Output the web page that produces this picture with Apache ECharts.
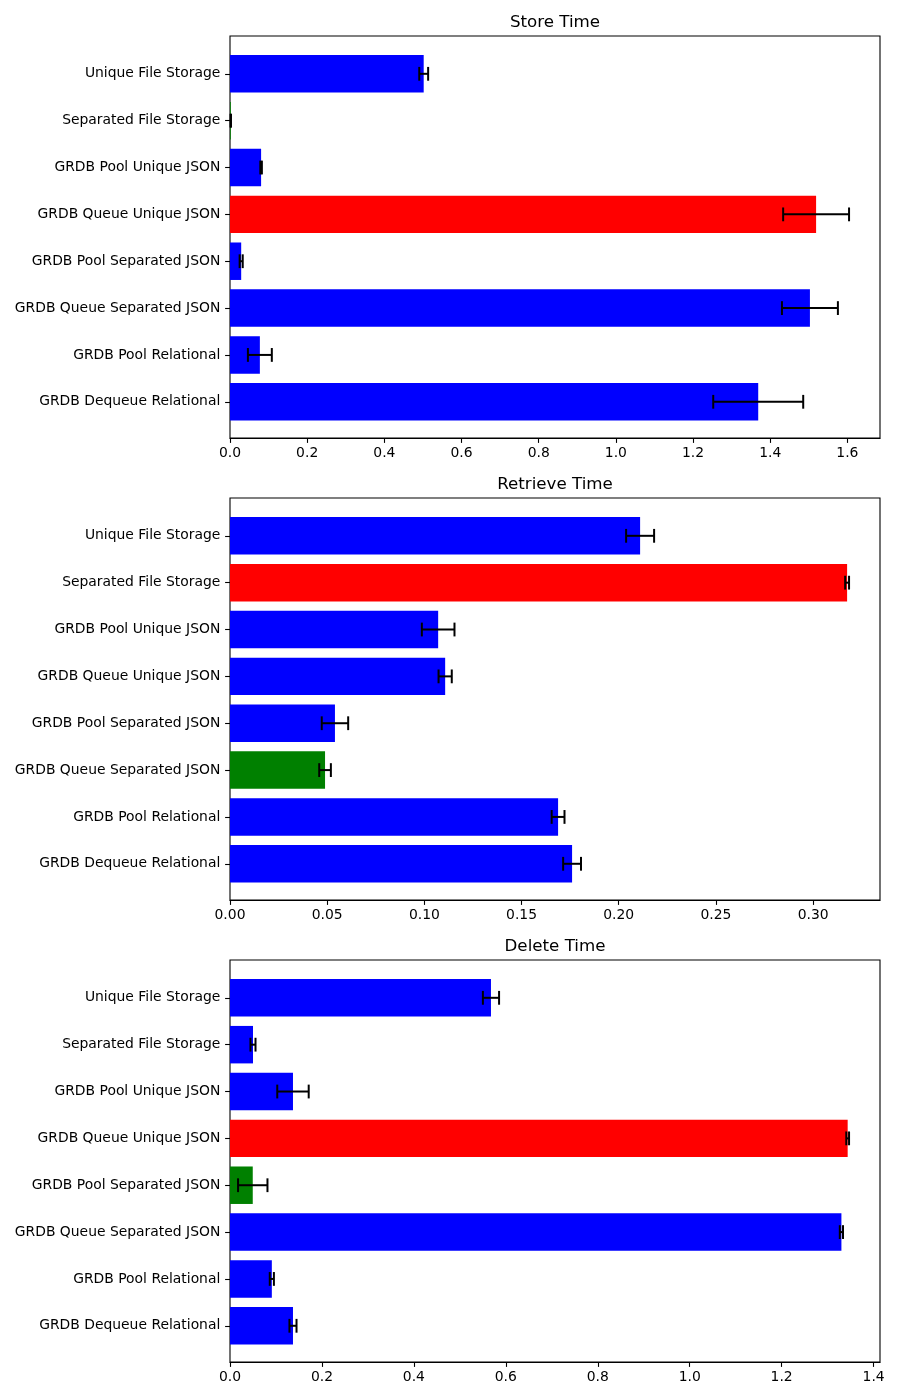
<!DOCTYPE html>
<html>
<head>
<meta charset="utf-8">
<script src="https://cdn.jsdelivr.net/npm/echarts@6/dist/echarts.min.js"></script>
<style>
html,body{margin:0;padding:0;background:#fff;}
#chart{width:900px;height:1400px;}
</style>
</head>
<body>
<div id="chart"></div>
<script>
const categories = ['Unique File Storage','Separated File Storage','GRDB Pool Unique JSON','GRDB Queue Unique JSON','GRDB Pool Separated JSON','GRDB Queue Separated JSON','GRDB Pool Relational','GRDB Dequeue Relational'];
const titles = ['Store Time','Retrieve Time','Delete Time'];

const storeTime = [0.502, 0.002, 0.0806, 1.519, 0.029, 1.503, 0.0774, 1.369];
const storeErr  = [0.0115, 0.0005, 0.002, 0.0854, 0.004, 0.0725, 0.031, 0.1166];

const retrieveTime = [0.211, 0.3175, 0.1071, 0.1107, 0.0540, 0.0489, 0.1688, 0.1760];
const retrieveErr  = [0.0072, 0.001, 0.0084, 0.0034, 0.0068, 0.003, 0.0033, 0.0046];

const deleteTime = [0.5677, 0.0500, 0.137, 1.3436, 0.0495, 1.330, 0.091, 0.137];
const deleteErr  = [0.0176, 0.0055, 0.0342, 0.003, 0.032, 0.0035, 0.0045, 0.0077];

const storeTicks = [0, 0.2, 0.4, 0.6, 0.8, 1.0, 1.2, 1.4, 1.6];
const retrieveTicks = [0, 0.05, 0.10, 0.15, 0.20, 0.25, 0.30];
const deleteTicks = [0, 0.2, 0.4, 0.6, 0.8, 1.0, 1.2, 1.4];
const tickDecimals = [1, 2, 1];

const panels = [
  {vals: storeTime, errs: storeErr, ticks: storeTicks},
  {vals: retrieveTime, errs: retrieveErr, ticks: retrieveTicks},
  {vals: deleteTime, errs: deleteErr, ticks: deleteTicks}
];

const FONT = 'DejaVu Sans';
const axesLeft = 230, axesWidth = 650, axesHeight = 402;
const axesTops = [36, 498, 960];
const n = categories.length;
// matplotlib-like y layout: bars at 0..n-1, height 0.8, 5% margins
const span = (n - 1 + 0.8) * 1.1;
const unitPx = axesHeight / span;
const inset = (0.4 + (n - 1 + 0.8) * 0.05 - 0.5) * unitPx;
const shift = 0.8;

const option = {
  animation: false,
  backgroundColor: '#ffffff',
  title: [], grid: [], xAxis: [], yAxis: [], series: []
};

panels.forEach((p, k) => {
  const top = axesTops[k];
  const maxData = Math.max(...p.vals.map((v, i) => v + p.errs[i]));
  const xmax = maxData * 1.05;
  const maxV = Math.max(...p.vals), minV = Math.min(...p.vals);
  const colors = p.vals.map(v => v === maxV ? '#ff0000' : (v === minV ? '#008000' : '#0000ff'));

  option.title.push({
    text: titles[k], left: axesLeft + axesWidth / 2, top: top - 22, textAlign: 'center', padding: 0,
    textStyle: {fontFamily: FONT, fontSize: 16.7, fontWeight: 'normal', color: '#000'}
  });
  // frame grid
  option.grid.push({left: axesLeft, top: top, width: axesWidth, height: axesHeight,
    show: true, borderColor: '#000', borderWidth: 1.1, backgroundColor: 'transparent'});
  option.xAxis.push({gridIndex: option.grid.length - 1, type: 'value', show: false, min: 0, max: 1});
  option.yAxis.push({gridIndex: option.grid.length - 1, type: 'value', show: false, min: 0, max: 1});
  // bar grid
  option.grid.push({left: axesLeft, top: top + inset + shift, width: axesWidth, height: axesHeight - 2 * inset});
  const gi = option.grid.length - 1;
  option.xAxis.push({
    gridIndex: gi, type: 'value', min: 0, max: xmax, offset: inset - shift,
    splitLine: {show: false},
    axisLine: {show: true, lineStyle: {color: '#000', width: 1.1}},
    axisTick: {show: true, length: 4.9, lineStyle: {color: '#000', width: 1.1}, customValues: p.ticks},
    axisLabel: {fontFamily: FONT, fontSize: 13.9, color: '#000', margin: 8,
      customValues: p.ticks, formatter: v => Number(v).toFixed(tickDecimals[k])}
  });
  option.yAxis.push({
    gridIndex: gi, type: 'category', data: categories, inverse: true,
    axisLine: {show: false},
    axisTick: {show: true, alignWithLabel: true, length: 4.9, lineStyle: {color: '#000', width: 1.1}},
    axisLabel: {fontFamily: FONT, fontSize: 13.9, color: '#000', margin: 9.7}
  });
  const axisIdx = option.xAxis.length - 1;
  option.series.push({
    type: 'bar', xAxisIndex: axisIdx, yAxisIndex: axisIdx, barWidth: '80%', silent: true,
    data: p.vals.map((v, i) => ({value: v, itemStyle: {color: colors[i]}}))
  });
  option.series.push({
    type: 'custom', xAxisIndex: axisIdx, yAxisIndex: axisIdx, silent: true, z: 5,
    encode: {x: 0, y: 1},
    data: p.vals.map((v, i) => [v, i, p.errs[i]]),
    renderItem: function (params, api) {
      const v = api.value(0), idx = api.value(1), e = api.value(2);
      const a = api.coord([v - e, idx]);
      const b = api.coord([v + e, idx]);
      const cap = 6.9;
      const style = {stroke: '#000', lineWidth: 2};
      return {type: 'group', children: [
        {type: 'line', shape: {x1: a[0], y1: a[1], x2: b[0], y2: b[1]}, style: style},
        {type: 'line', shape: {x1: a[0], y1: a[1] - cap, x2: a[0], y2: a[1] + cap}, style: style},
        {type: 'line', shape: {x1: b[0], y1: b[1] - cap, x2: b[0], y2: b[1] + cap}, style: style}
      ]};
    }
  });
});

const chart = echarts.init(document.getElementById('chart'), null, {renderer: 'canvas'});
chart.setOption(option);
</script>
</body>
</html>
